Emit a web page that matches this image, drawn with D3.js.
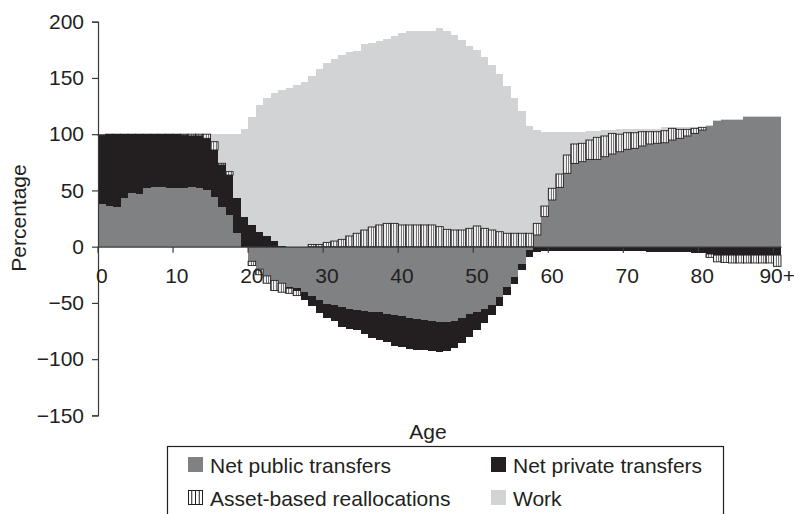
<!DOCTYPE html>
<html>
<head>
<meta charset="utf-8">
<script src="https://cdn.jsdelivr.net/npm/d3@7"></script>
<style>
  html, body { margin: 0; padding: 0; background: #fff; }
  svg { display: block; font-family: "Liberation Sans", Arial, Helvetica, sans-serif; }
</style>
</head>
<body>
<svg id="chart" width="794" height="514"></svg>
<script>
// ---- Data (percentage of consumption by age) ----
const ages = d3.range(0, 91).map(a => a === 90 ? "90+" : String(a));

const publicTransfers = [
  38, 36, 35, 43, 48, 47, 52, 53, 53, 52,
  52, 52, 53, 52, 50, 44, 35, 28, 12, 0,
  -13, -20, -26, -30, -32.5, -35.5, -36.5, -40, -44, -47,
  -51, -52, -54, -55, -56, -57, -58, -58.5, -60, -61,
  -62, -63, -64, -65, -66, -67, -67, -66, -63, -60,
  -58, -55, -52, -44.5, -36, -26.7, -15.4, -3, 10.4, 26.7,
  41.5, 52.7, 65.2, 74, 75.6, 77.6, 77.6, 80, 82.4, 84.4,
  86.5, 87.4, 89.5, 91.3, 91.9, 92.4, 94.8, 96.3, 98.4, 100.7,
  103.7, 108, 112.5, 113, 113.3, 113.5, 115, 115, 115, 115,
  115
];

const privateTransfers = [
  61, 63.5, 64.5, 56.5, 51.5, 52.5, 47.5, 46.5, 46.5, 47.5,
  47.5, 47, 45.5, 46.5, 46.3, 42, 37.6, 35.7, 31, 26.7,
  19, 13.3, 9.5, 5.4, 1, -1.5, -2.5, -7, -9, -12,
  -12, -14, -17, -18, -18, -21, -23, -24.5, -25, -27,
  -27, -28, -28, -27, -27, -27, -26, -24, -23, -20,
  -16, -13, -9, -8, -7, -6.5, -5.5, -6, -4.5, -4,
  -3.5, -3.5, -3.5, -3.5, -3.5, -3.5, -3.5, -4, -4, -4,
  -4, -4, -4, -5, -5, -5, -5, -5, -5, -6,
  -6, -6.5, -7.5, -7.5, -7.5, -7.5, -7.5, -7.5, -7.5, -7.5,
  -7.5
];

const assetReallocations = [
  0.5, 0.5, 0.5, 0.5, 0.5, 0.5, 0.5, 0.5, 0.5, 0.5,
  0.5, 1, 1.5, 1.5, 3.7, 7.3, 1.5, 3, 0, 0,
  -3.8, -5, -6.5, -9, -8, -4.5, -4.5, 0, 2, 2,
  3.8, 5, 6.5, 9.5, 11.9, 14.8, 17.5, 19.3, 20.7, 20.7,
  19.3, 19.3, 19.3, 19.3, 19.3, 17.8, 15.4, 14.8, 14.8, 16.3,
  18.4, 16.3, 14.8, 13.3, 11.9, 11.9, 11.9, 11.9, 10.3, 9.4,
  10.4, 11.9, 16.3, 17.3, 16.3, 17.2, 19.6, 18.4, 18.3, 15.6,
  14.8, 13.9, 12.7, 10.9, 10.3, 10.7, 10.4, 8, 5.9, 4.5,
  2.4, -3, -6, -6.5, -7, -7, -7, -7, -7, -7,
  -10
];

const work = [
  0, 0, 0, 0, 0, 0, 0, 0, 0, 0,
  0, 0, 0, 0, 0, 6.7, 25.9, 33.3, 57, 77.6,
  96.6, 112.7, 122.5, 131.6, 138, 141, 143.7, 146.7, 149.7, 155.6,
  159.8, 161.5, 163.9, 163.8, 162.1, 165.2, 164, 163.5, 164.3, 166.9,
  170.3, 172.4, 172.4, 172.4, 172.4, 176.2, 176.3, 173.2, 168.9, 162.1,
  156.4, 152.7, 146.7, 140, 131.1, 120.1, 108.9, 95.4, 83, 65.9,
  50.1, 37.4, 20.5, 10.9, 10.3, 7.7, 5.8, 5.1, 3.3, 4.3,
  3, 3, 2.3, 2.3, 2.8, 2.9, 1.3, 2.2, 2.4, 1.5,
  0.6, 0.3, 0.3, 0.3, 0.3, 0.3, 1, 1, 1, 1,
  1
];

const seriesKeys = ["public", "private", "asset", "work"];
const seriesNames = ["Net public transfers", "Net private transfers", "Asset-based reallocations", "Work"];
const yTicks = [-150, -100, -50, 0, 50, 100, 150, 200];
const xTickAges = [0, 10, 20, 30, 40, 50, 60, 70, 80, 90];
const xLabelAges = [0, 10, 20, 30, 40, 50, 60, 70, 80, 90];

// ---- Build table ----
const table = ages.map((a, i) => ({
  age: a,
  public: publicTransfers[i],
  private: privateTransfers[i],
  asset: assetReallocations[i],
  work: work[i]
}));

const FS = 21;
const svg = d3.select("#chart");

const x = d3.scaleBand().domain(ages).range([98, 781]).paddingInner(0).paddingOuter(0);
const y = d3.scaleLinear().domain([-150, 200]).range([415.4, 21.7]);

const colors = { public: "#808183", private: "#231f20", asset: "url(#stripes)", work: "#d1d3d4" };

// stripes pattern
const defs = svg.append("defs");
const pat = defs.append("pattern")
  .attr("id", "stripes").attr("patternUnits", "userSpaceOnUse")
  .attr("width", 2.5).attr("height", 10);
pat.append("rect").attr("width", 2.5).attr("height", 10).attr("fill", "#fff");
pat.append("line").attr("x1", 1.25).attr("x2", 1.25).attr("y1", 0).attr("y2", 10)
  .attr("stroke", "#231f20").attr("stroke-width", 0.8);

const stacked = d3.stack().keys(seriesKeys).offset(d3.stackOffsetDiverging)(table);

// pixel-snapped band edges so adjacent solid bars share exact edges
const xL = a => Math.round(x(a));
const xR = a => Math.round(x(a) + x.bandwidth());

const drawOrder = ["public", "private", "work", "asset"];
drawOrder.forEach(key => {
  const s = stacked.find(d => d.key === key);
  const g = svg.append("g").attr("class", "series-" + key);
  const solid = key !== "asset";
  g.selectAll("rect")
    .data(s.filter(d => Math.abs(d[1] - d[0]) > 0.001))
    .join("rect")
    .attr("x", d => solid ? xL(d.data.age) : x(d.data.age))
    .attr("width", d => solid ? xR(d.data.age) - xL(d.data.age) : x.bandwidth())
    .attr("y", d => solid ? Math.round(y(Math.max(d[0], d[1]))) : y(Math.max(d[0], d[1])))
    .attr("height", d => solid
      ? Math.max(1, Math.round(y(Math.min(d[0], d[1]))) - Math.round(y(Math.max(d[0], d[1]))))
      : Math.abs(y(d[0]) - y(d[1])))
    .attr("fill", colors[key])
    .attr("shape-rendering", solid ? "crispEdges" : "auto")
    .attr("stroke", solid ? "none" : "#231f20")
    .attr("stroke-width", solid ? 0 : 0.9);
});

// ---- Axes ----
const axisColor = "#3a3a3a";
const yAxis = d3.axisLeft(y).tickValues(yTicks).tickSize(6).tickPadding(8)
  .tickFormat(d => d < 0 ? "\u2212" + Math.abs(d) : String(d));
const gy = svg.append("g").attr("transform", "translate(98,0)").call(yAxis);
gy.select(".domain").attr("stroke", axisColor).attr("stroke-width", 1.2);
gy.selectAll(".tick line").attr("stroke", axisColor).attr("stroke-width", 1.2);
gy.selectAll(".tick text").attr("font-size", FS).attr("fill", "#231f20")
  .attr("font-family", "Liberation Sans, Arial, sans-serif");

// x axis line at zero
const xLine = d3.axisBottom(x).tickValues([]).tickSizeOuter(0);
const gx = svg.append("g").attr("transform", `translate(0,${y(0)})`).call(xLine);
gx.select(".domain").attr("stroke", axisColor).attr("stroke-width", 1.2);

// tick marks at category boundaries
gx.selectAll("line.tickmark")
  .data(xTickAges)
  .join("line")
  .attr("class", "tickmark")
  .attr("x1", a => x(ages[a])).attr("x2", a => x(ages[a]))
  .attr("y1", 0).attr("y2", 6)
  .attr("stroke", axisColor).attr("stroke-width", 1.2);

// labels at category centres
gx.selectAll("text.lbl")
  .data(xLabelAges)
  .join("text")
  .attr("class", "lbl")
  .attr("x", a => x(ages[a]) + x.bandwidth() / 2)
  .attr("y", 36)
  .attr("text-anchor", "middle")
  .attr("font-size", FS)
  .attr("fill", "#231f20")
  .text(a => ages[a]);

// axis titles
svg.append("text")
  .attr("transform", "translate(26,218) rotate(-90)")
  .attr("text-anchor", "middle")
  .attr("font-size", FS).attr("fill", "#231f20")
  .text("Percentage");

svg.append("text")
  .attr("x", 428).attr("y", 439)
  .attr("text-anchor", "middle")
  .attr("font-size", FS).attr("fill", "#231f20")
  .text("Age");

// ---- Legend ----
const lg = svg.append("g");
lg.append("rect").attr("x", 167.5).attr("y", 446.5).attr("width", 556).attr("height", 90)
  .attr("fill", "none").attr("stroke", "#231f20").attr("stroke-width", 1.2);

const SQ = 15;
const legendPos = [
  { key: "public", sx: 188, ty: 472 },
  { key: "private", sx: 491, ty: 472 },
  { key: "asset", sx: 188, ty: 505 },
  { key: "work", sx: 491, ty: 505 }
];
legendPos.forEach(p => {
  const key = p.key;
  const idx = seriesKeys.indexOf(key);
  if (key === "asset") {
    const gg = lg.append("g");
    gg.append("rect").attr("x", p.sx + 0.5).attr("y", p.ty - SQ + 0.5).attr("width", SQ - 1).attr("height", SQ - 1)
      .attr("fill", "#fff").attr("stroke", "#231f20").attr("stroke-width", 1);
    [3.75, 7.5, 11.25].forEach(off => {
      gg.append("line").attr("x1", p.sx + off).attr("x2", p.sx + off)
        .attr("y1", p.ty - SQ).attr("y2", p.ty).attr("stroke", "#231f20").attr("stroke-width", 1);
    });
  } else {
    lg.append("rect").attr("x", p.sx).attr("y", p.ty - SQ).attr("width", SQ).attr("height", SQ)
      .attr("fill", colors[key]);
  }
  lg.append("text").attr("x", p.sx + 22).attr("y", p.ty + 1)
    .attr("font-size", FS).attr("fill", "#231f20")
    .text(seriesNames[idx]);
});
</script>
</body>
</html>
